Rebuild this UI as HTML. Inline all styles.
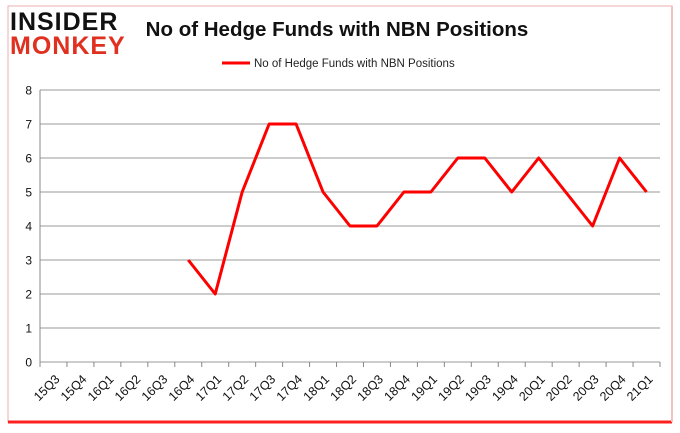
<!DOCTYPE html>
<html><head><meta charset="utf-8"><style>
body{margin:0;background:#fff;}
svg{display:block;font-family:"Liberation Sans",sans-serif;}
</style></head><body>
<svg width="680" height="433">
<rect x="0" y="0" width="680" height="433" fill="#fff"/>
<rect x="8" y="6" width="664" height="416" fill="none" stroke="#e8b0b0" stroke-width="1"/>
<line x1="8" y1="422" x2="672" y2="422" stroke="#ff2020" stroke-width="3"/>
<line x1="672" y1="6" x2="672" y2="422" stroke="#f4c0c0" stroke-width="2"/>
<text x="10" y="30" font-size="25" font-weight="bold" fill="#111" letter-spacing="1">INSIDER</text>
<text x="10" y="54" font-size="25" font-weight="bold" fill="#e03020" letter-spacing="1">MONKEY</text>
<text x="337" y="36" font-size="20.5" font-weight="bold" fill="#111" text-anchor="middle">No of Hedge Funds with NBN Positions</text>
<line x1="222" y1="63" x2="250" y2="63" stroke="#f00" stroke-width="3"/>
<text x="254" y="67" font-size="11.5" fill="#222">No of Hedge Funds with NBN Positions</text>
<g id="grid"></g><g id="axes"></g><g id="series"></g>
</svg>
<script>
const categories=["15Q3","15Q4","16Q1","16Q2","16Q3","16Q4","17Q1","17Q2","17Q3","17Q4","18Q1","18Q2","18Q3","18Q4","19Q1","19Q2","19Q3","19Q4","20Q1","20Q2","20Q3","20Q4","21Q1"];
const values=[null,null,null,null,null,3,2,5,7,7,5,4,4,5,5,6,6,5,6,5,4,6,5];
const yTicks=[0,1,2,3,4,5,6,7,8];
const NS="http://www.w3.org/2000/svg";
const L=40,R=660,T=90,B=362,ymax=8;
const bw=(R-L)/categories.length;
const x=i=>L+(i+0.5)*bw, y=v=>B-(v/ymax)*(B-T);
function mk(t,a,p){const e=document.createElementNS(NS,t);for(const k in a)e.setAttribute(k,a[k]);p.appendChild(e);return e;}
const g=document.getElementById('grid'),ax=document.getElementById('axes'),s=document.getElementById('series');
yTicks.forEach(v=>{
 const l=mk('line',{x1:L,x2:R,y1:y(v),y2:y(v),stroke:'#999','stroke-width':1},g);
 
 
 const t=mk('text',{x:L-8,y:y(v)+4.5,'font-size':12,'text-anchor':'end',fill:'#111'},ax);
 t.textContent=v;
 
 
});
mk('line',{x1:L,x2:L,y1:T,y2:B,stroke:'#888'},ax);
categories.forEach((c,i)=>{
 mk('line',{x1:L+i*bw,x2:L+i*bw,y1:B,y2:B+5,stroke:'#888'},ax);
 const t=mk('text',{x:0,y:0,'font-size':12.5,'text-anchor':'end',fill:'#111',transform:`translate(${x(i)+7},${B+18}) rotate(-45)`},ax);
 t.textContent=c;
 
 
});
mk('line',{x1:R,x2:R,y1:B,y2:B+5,stroke:'#888'},ax);
let d='';values.forEach((v,i)=>{if(v==null)return;d+=(d?'L':'M')+x(i)+','+y(v);});
const p=mk('path',{d:d,fill:'none',stroke:'#f00','stroke-width':3,'stroke-linejoin':'round'},s);


</script>
</body></html>
